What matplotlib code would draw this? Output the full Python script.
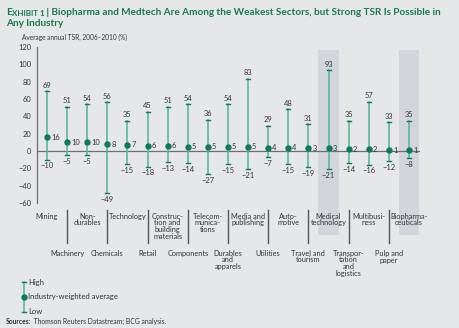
import matplotlib.pyplot as plt
from matplotlib.patches import Rectangle

# data
sectors = ["Mining", "Machinery", "Non-\ndurables", "Chemicals", "Technology", "Retail",
           "Construc-\ntion and\nbuilding\nmaterials", "Components", "Telecom-\nmunica-\ntions",
           "Durables\nand\napparels", "Media and\npublishing", "Utilities", "Auto-\nmotive",
           "Travel and\ntourism", "Medical\ntechnology", "Transpor-\ntation\nand\nlogistics",
           "Multibusi-\nness", "Pulp and\npaper", "Biopharma-\nceuticals"]
high = [69, 51, 54, 56, 35, 45, 51, 54, 36, 54, 83, 29, 48, 31, 93, 35, 57, 33, 35]
avg = [16, 10, 10, 8, 7, 6, 6, 5, 5, 5, 5, 4, 4, 3, 3, 2, 2, 1, 1]
low = [-10, -5, -5, -49, -15, -18, -13, -14, -27, -15, -21, -7, -15, -19, -21, -14, -16, -12, -8]
highlight = ["Medical\ntechnology", "Biopharma-\nceuticals"]
yticks = [-60, -40, -20, 0, 20, 40, 60, 80, 100, 120]

bg = "#e6e7e9"
green_line = "#5cb89b"
green_dot = "#0e7a58"
title_green = "#187a4e"
txt = "#333333"

plt.rcParams["font.family"] = ["Lato", "DejaVu Sans"]

fig = plt.figure(figsize=(4.6, 3.28), dpi=100, facecolor=bg)
ax = fig.add_axes([37/460, 1-203/328, 383/460, 156/328])
ax.set_facecolor(bg)

x = list(range(len(sectors)))

for i, s in enumerate(sectors):
    if s in highlight:
        ax.add_patch(Rectangle((i-0.51, -97), 1.02, 213, facecolor="#d2d5db",
                               edgecolor="none", clip_on=False, zorder=0))

ax.axhline(0, color="#6d6e71", lw=0.9, zorder=1)

for i in x:
    ax.plot([i, i], [low[i], high[i]], color=green_line, lw=1.2, zorder=2)
    ax.plot([i-0.1, i+0.1], [high[i], high[i]], color=green_dot, lw=1.0, zorder=2)
    ax.plot([i-0.1, i+0.1], [low[i], low[i]], color=green_dot, lw=1.0, zorder=2)
    ax.plot(i, avg[i], "o", color=green_dot, ms=3.6, zorder=3)
    ax.text(i, high[i]+3, str(high[i]), ha="center", va="bottom", fontsize=5.4, color=txt)
    ax.text(i, low[i]-3, "\u2212" + str(abs(low[i])), ha="center", va="top", fontsize=5.4, color=txt)
    ax.text(i+0.2, avg[i], str(avg[i]), ha="left", va="center", fontsize=5.4, color=txt)

    if i % 2 == 0:
        ax.text(i, -71, sectors[i], ha="center", va="top", fontsize=5.3, color=txt,
                linespacing=0.95, clip_on=False)
    else:
        ax.plot([i, i], [-68, -106], color="#555555", lw=1.0, clip_on=False)
        ax.text(i, -114, sectors[i], ha="center", va="top", fontsize=5.3, color=txt,
                linespacing=0.95, clip_on=False)

ax.set_xlim(-0.5, 18.55)
ax.set_ylim(-60, 120)
ax.set_yticks(yticks)
ax.set_yticklabels([str(t).replace("-", "\u2212") for t in yticks], fontsize=5.4, color=txt)
ax.set_xticks([])
ax.tick_params(axis="y", length=0, pad=4)
for side in ["top", "right", "bottom"]:
    ax.spines[side].set_visible(False)
ax.spines["left"].set_color("#6d6e71")
ax.spines["left"].set_linewidth(0.9)

fig.text(22/460, 1-37/328, "Average annual TSR, 2006\u20132010 (%)", fontsize=4.7, color=txt, va="center")

# title with small caps "Exhibit"
t1 = fig.text(6/460, 1-15/328, "E", fontsize=7.4, fontweight="bold", color=title_green, va="baseline")
t2 = plt.annotate("XHIBIT 1", xy=(1, 0), xycoords=t1, fontsize=5.8, fontweight="bold",
                  color=title_green, va="bottom")
plt.annotate(" | Biopharma and Medtech Are Among the Weakest Sectors, but Strong TSR Is Possible in",
             xy=(1, 0), xycoords=t2, fontsize=7.2, fontweight="bold", color=title_green, va="bottom")
fig.text(6/460, 1-26/328, "Any Industry", fontsize=7.2, fontweight="bold", color=title_green, va="baseline")

# legend
lx = 24/460
fig.add_artist(plt.Line2D([lx, lx], [1-282/328, 1-312/328], color=green_line, lw=1.2))
for yy in [282, 312]:
    fig.add_artist(plt.Line2D([lx-2/460, lx+2/460], [1-yy/328, 1-yy/328], color=green_dot, lw=1.0))
fig.add_artist(plt.Line2D([lx], [1-297/328], marker="o", color=green_dot, ms=3.6))
fig.text(28/460, 1-282/328, "High", fontsize=5.5, color=txt, va="center")
fig.text(28/460, 1-297/328, "Industry-weighted average", fontsize=5.5, color=txt, va="center")
fig.text(28/460, 1-312/328, "Low", fontsize=5.5, color=txt, va="center")

s1 = fig.text(6/460, 1-321/328, "Sources:", fontsize=4.9, fontweight="bold", color=txt, va="center")
plt.annotate(" Thomson Reuters Datastream; BCG analysis.", xy=(1, 0.5), xycoords=s1,
             fontsize=4.9, color=txt, va="center")

fig.savefig("out.png", dpi=100, facecolor=bg)
